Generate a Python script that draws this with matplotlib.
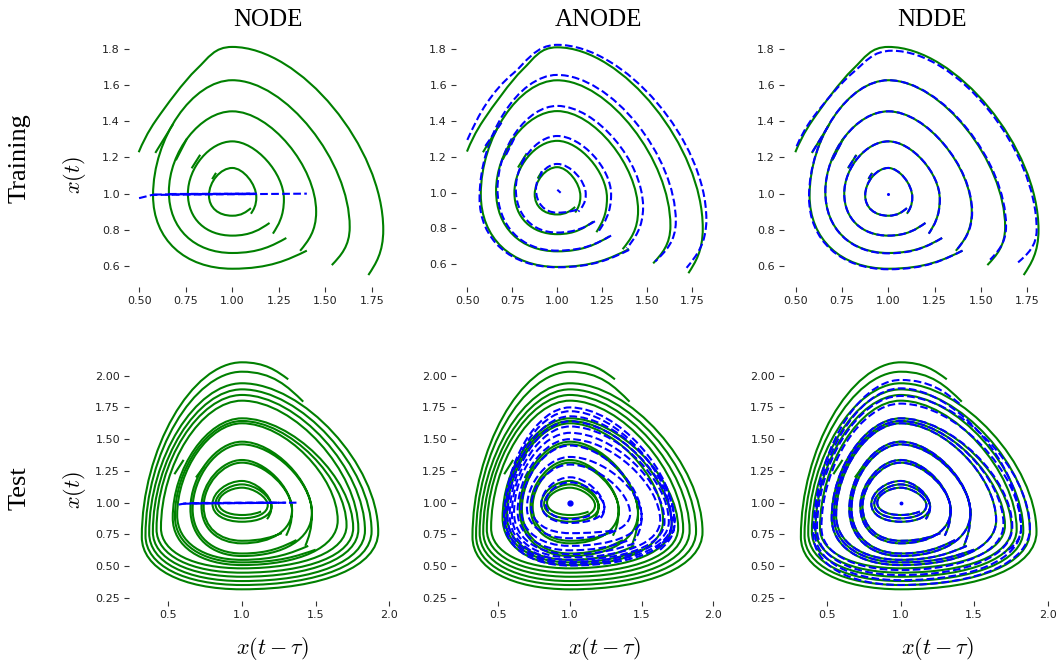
import numpy as np
import matplotlib
matplotlib.use("Agg")
import matplotlib.pyplot as plt
from matplotlib.path import Path
from matplotlib.patches import PathPatch

plt.rcParams['mathtext.fontset'] = 'cm'

TRUE_COLOR = 'green'
PRED_COLOR = 'blue'

# ---------------------------------------------------------------------------
# Training trajectories: points (x(t-tau), x(t), kind)
# kind: T/B = top/bottom turning point, L/R = left/right turning point, '.' = plain point
# ---------------------------------------------------------------------------
train_true = [
    [(0.498, 1.229, '.'), (0.593, 1.409, '.'), (0.807, 1.686, '.'), (1.00, 1.811, 'T'),
     (1.81, 0.80, 'R'), (1.73, 0.55, '.')],
    [(1.40, 0.685, '.'), (1.00, 0.585, 'B'), (0.575, 0.99, 'L'), (1.00, 1.627, 'T'), (1.63, 0.815, 'R'), (1.534, 0.605, '.')],
    [(1.29, 0.755, '.'), (1.00, 0.672, 'B'), (0.66, 1.01, 'L'), (1.00, 1.455, 'T'), (1.45, 0.90, 'R'), (1.364, 0.684, '.')],
    [(1.20, 0.838, '.'), (1.00, 0.768, 'B'), (0.762, 1.00, 'L'), (1.00, 1.289, 'T'), (1.277, 0.97, 'R'), (1.218, 0.779, '.')],
    [(1.10, 0.92, '.'), (1.00, 0.878, 'B'), (0.875, 0.99, 'L'), (1.00, 1.142, 'T'), (1.129, 0.98, 'R'), (1.10, 0.889, '.')],
]
train_true_kinks = [
    [(0.59, 1.23), (0.68, 1.38)],
    [(0.70, 1.19), (0.755, 1.30)],
    [(0.785, 1.145), (0.825, 1.21)],
    [(0.895, 1.085), (0.91, 1.11)],
]

# NODE prediction collapses onto x(t) ~ 1
train_node = [
    [(0.50, 0.975), (0.57, 0.993), (1.40, 1.00)],
    [(0.58, 0.995), (1.13, 1.00)],
    [(0.66, 0.998), (1.12, 1.00)],
    [(0.76, 1.00), (1.11, 1.00)],
    [(0.87, 1.00), (1.10, 1.00)],
]

train_anode = [
    [(0.50, 1.294, '.'), (0.608, 1.499, '.'), (0.756, 1.666, '.'), (1.00, 1.825, 'T'),
     (1.83, 0.85, 'R'), (1.72, 0.58, '.')],
    [(1.40, 0.68, '.'), (1.00, 0.583, 'B'), (0.568, 0.97, 'L'), (1.00, 1.657, 'T'), (1.66, 0.84, 'R'), (1.545, 0.615, '.')],
    [(1.30, 0.76, '.'), (1.00, 0.676, 'B'), (0.668, 1.02, 'L'), (1.00, 1.484, 'T'), (1.478, 0.92, 'R'), (1.387, 0.689, '.')],
    [(1.21, 0.84, '.'), (1.00, 0.777, 'B'), (0.77, 1.02, 'L'), (1.00, 1.316, 'T'), (1.30, 0.99, 'R'), (1.229, 0.782, '.')],
    [(1.11, 0.905, '.'), (1.00, 0.888, 'B'), (0.882, 1.02, 'L'), (1.00, 1.16, 'T'), (1.159, 0.99, 'R'), (1.118, 0.894, '.')],
]
train_anode_kinks = [
    [(0.60, 1.26), (0.69, 1.39)],
    [(0.715, 1.21), (0.765, 1.31)],
    [(0.80, 1.16), (0.83, 1.22)],
    [(0.905, 1.09), (0.915, 1.12)],
]
train_anode_rest = [(1.005, 1.012), (1.015, 1.003)]

train_ndde = [
    [(0.505, 1.262, '.'), (0.60, 1.43, '.'), (0.81, 1.67, '.'), (1.02, 1.79, 'T'),
     (1.80, 0.80, 'R'), (1.70, 0.62, '.')],
    [(1.40, 0.685, '.'), (1.00, 0.582, 'B'), (0.572, 0.98, 'L'), (1.00, 1.627, 'T'), (1.635, 0.82, 'R'), (1.549, 0.635, '.')],
    [(1.29, 0.755, '.'), (1.00, 0.670, 'B'), (0.66, 1.01, 'L'), (1.00, 1.455, 'T'), (1.452, 0.90, 'R'), (1.364, 0.684, '.')],
    [(1.20, 0.838, '.'), (1.00, 0.768, 'B'), (0.762, 1.00, 'L'), (1.00, 1.289, 'T'), (1.278, 0.97, 'R'), (1.218, 0.779, '.')],
    [(1.10, 0.92, '.'), (1.00, 0.878, 'B'), (0.875, 0.99, 'L'), (1.00, 1.142, 'T'), (1.129, 0.98, 'R'), (1.10, 0.889, '.')],
]
train_ndde_kinks = train_true_kinks
train_ndde_rest = (1.0, 1.0)

# ---------------------------------------------------------------------------
# Test trajectories: orbit turning points (bottom, left, top, right) per loop
# ---------------------------------------------------------------------------
test_true_loops = [
    ((1.00, 0.903), (0.84, 1.00), (1.00, 1.118), (1.15, 0.99)),
    ((1.00, 0.877), (0.82, 0.99), (1.00, 1.144), (1.175, 0.98)),
    ((1.00, 0.850), (0.80, 0.99), (1.00, 1.171), (1.20, 0.97)),
    ((1.00, 0.700), (0.74, 0.97), (1.00, 1.315), (1.32, 0.95)),
    ((1.00, 0.680), (0.725, 0.97), (1.00, 1.336), (1.34, 0.94)),
    ((1.00, 0.600), (0.665, 0.95), (1.00, 1.459), (1.455, 0.93)),
    ((1.00, 0.580), (0.65, 0.95), (1.00, 1.480), (1.475, 0.92)),
    ((1.00, 0.550), (0.56, 0.90), (1.00, 1.625), (1.55, 0.88)),
    ((1.00, 0.530), (0.545, 0.89), (1.00, 1.643), (1.60, 0.87)),
    ((1.00, 0.509), (0.53, 0.88), (1.00, 1.664), (1.65, 0.86)),
    ((1.00, 0.483), (0.45, 0.80), (1.00, 1.803), (1.71, 0.82)),
    ((1.00, 0.449), (0.42, 0.79), (1.00, 1.848), (1.755, 0.80)),
    ((1.00, 0.417), (0.395, 0.77), (1.00, 1.892), (1.79, 0.79)),
    ((1.00, 0.383), (0.37, 0.76), (1.00, 1.940), (1.835, 0.78)),
    ((1.00, 0.352), (0.345, 0.74), (1.00, 2.031), (1.88, 0.775)),
    ((1.00, 0.318), (0.32, 0.73), (1.00, 2.105), (1.925, 0.77)),
]
# (start, [(loop, turning points visited)], end)
test_true_runs = [
    ((1.13, 0.93), [(0, 'BLT'), (1, 'RBLT'), (2, 'RBLT'), (2, 'R')], (1.17, 0.87)),
    ((1.27, 0.76), [(3, 'BLT'), (4, 'RBLT'), (4, 'R')], (1.30, 0.74)),
    ((1.37, 0.706), [(5, 'BLT'), (6, 'RBLT'), (6, 'R')], (1.43, 0.66)),
    ((1.45, 0.66), [(7, 'BLT'), (9, 'RBLT'), (11, 'RBLT'), (13, 'RBLT'), (15, 'RBLT')], (1.314, 1.971)),
    ((1.50, 0.63), [(8, 'BLT'), (10, 'RBLT'), (12, 'RBLT'), (14, 'RBLT')], (1.416, 1.795)),
]
test_true_kinks = [
    [(0.545, 1.231), (0.60, 1.33)],
    [(0.692, 1.205), (0.74, 1.28)],
]

test_node = [
    [(0.57, 0.985), (0.62, 0.995), (1.37, 1.00)],
    [(0.60, 0.992), (1.30, 1.00)],
    [(0.66, 0.996), (1.25, 1.00)],
    [(0.72, 0.998), (1.20, 1.00)],
    [(0.80, 1.00), (1.15, 1.00)],
]

test_anode_loops = [
    ((1.00, 0.870), (0.83, 1.00), (1.00, 1.16), (1.20, 0.97)),
    ((1.00, 0.840), (0.80, 0.99), (1.00, 1.20), (1.24, 0.96)),
    ((1.00, 0.760), (0.73, 0.97), (1.00, 1.30), (1.36, 0.93)),
    ((1.00, 0.720), (0.70, 0.96), (1.00, 1.36), (1.42, 0.91)),
    ((1.00, 0.660), (0.66, 0.94), (1.00, 1.45), (1.50, 0.89)),
    ((1.00, 0.625), (0.635, 0.93), (1.00, 1.50), (1.55, 0.88)),
    ((1.00, 0.595), (0.61, 0.92), (1.00, 1.55), (1.59, 0.87)),
    ((1.00, 0.570), (0.595, 0.91), (1.00, 1.60), (1.63, 0.86)),
    ((1.00, 0.550), (0.58, 0.90), (1.00, 1.64), (1.66, 0.85)),
    ((1.00, 0.535), (0.565, 0.89), (1.00, 1.68), (1.69, 0.85)),
    ((1.00, 0.520), (0.55, 0.88), (1.00, 1.72), (1.71, 0.84)),
    ((1.00, 0.505), (0.54, 0.87), (1.00, 1.75), (1.73, 0.84)),
]
test_anode_runs = [
    ((1.14, 0.90), [(0, 'BLT'), (1, 'RBLT'), (1, 'R')], (1.20, 0.86)),
    ((1.30, 0.78), [(2, 'BLT'), (3, 'RBLT'), (4, 'RBLT'), (4, 'R')], (1.45, 0.70)),
    ((1.40, 0.70), [(5, 'BLT'), (7, 'RBLT'), (9, 'RBLT'), (11, 'RBLT'), (11, 'R')], (1.62, 0.62)),
    ((1.45, 0.68), [(6, 'BLT'), (8, 'RBLT'), (10, 'RBLT'), (10, 'R')], (1.60, 0.64)),
]
test_anode_rest = (1.0, 1.0)

test_ndde_loops = test_true_loops[:10] + [
    ((1.00, 0.470), (0.46, 0.80), (1.00, 1.78), (1.70, 0.83)),
    ((1.00, 0.430), (0.43, 0.79), (1.00, 1.84), (1.76, 0.81)),
    ((1.00, 0.390), (0.415, 0.77), (1.00, 1.90), (1.82, 0.80)),
    ((1.00, 0.352), (0.405, 0.75), (1.00, 1.966), (1.88, 0.80)),
]
test_ndde_runs = [
    ((1.13, 0.93), [(0, 'BLT'), (1, 'RBLT'), (2, 'RBLT'), (2, 'R')], (1.17, 0.87)),
    ((1.27, 0.76), [(3, 'BLT'), (4, 'RBLT'), (4, 'R')], (1.30, 0.74)),
    ((1.37, 0.706), [(5, 'BLT'), (6, 'RBLT'), (6, 'R')], (1.43, 0.66)),
    ((1.45, 0.66), [(7, 'BLT'), (9, 'RBLT'), (11, 'RBLT'), (13, 'RBLT')], (1.40, 1.78)),
    ((1.50, 0.63), [(8, 'BLT'), (10, 'RBLT'), (12, 'RBLT'), (12, 'R')], (1.70, 0.60)),
]
test_ndde_rest = (1.0, 1.0)

# tick values
train_xticks = [0.50, 0.75, 1.00, 1.25, 1.50, 1.75]
train_yticks = [0.6, 0.8, 1.0, 1.2, 1.4, 1.6, 1.8]
test_xticks = [0.5, 1.0, 1.5, 2.0]
test_yticks = [0.25, 0.50, 0.75, 1.00, 1.25, 1.50, 1.75, 2.00]

model_names = ['NODE', 'ANODE', 'NDDE']
row_names = ['Training', 'Test']

# ---------------------------------------------------------------------------
# curve construction (cubic Bezier through turning points)
# ---------------------------------------------------------------------------
HANDLE = {'TR': 0.45, 'RB': 0.6, 'BL': 0.6, 'LT': 0.5}


def axis_handle(p, q, k):
    x, y, kind = p
    if kind in 'TB':
        return np.array([x + k * (q[0] - x), y])
    if kind in 'LR':
        return np.array([x, y + k * (q[1] - y)])
    return None


def trajectory_path(pts):
    P = [np.array(p[:2], float) for p in pts]
    n = len(pts)
    verts = [P[0]]
    codes = [Path.MOVETO]
    for i in range(n - 1):
        a, b = pts[i], pts[i + 1]
        k = HANDLE.get(a[2] + b[2], 0.5)
        c1 = axis_handle(a, b, k)
        c2 = axis_handle(b, a, k)
        if c1 is None and i > 0:
            c1 = P[i] + (P[i + 1] - P[i - 1]) / 6.0
        if c2 is None and i + 2 < n:
            c2 = P[i + 1] - (P[i + 2] - P[i]) / 6.0
        if c1 is None and c2 is None:
            c1 = P[i] + (P[i + 1] - P[i]) / 3.0
            c2 = P[i] + 2 * (P[i + 1] - P[i]) / 3.0
        elif c1 is None:
            c1 = P[i] + 0.5 * (c2 - P[i])
        elif c2 is None:
            c2 = P[i + 1] + 0.5 * (c1 - P[i + 1])
        verts += [c1, c2, P[i + 1]]
        codes += [Path.CURVE4] * 3
    return Path(verts, codes)


def run_points(loops, run):
    start, visits, end = run
    pts = [(start[0], start[1], '.')]
    order = 'BLTR'
    for idx, kinds in visits:
        for kind in kinds:
            x, y = loops[idx][order.index(kind)]
            pts.append((x, y, kind))
    pts.append((end[0], end[1], '.'))
    return pts


def draw_traj(ax, pts, color, ls, lw=1.5):
    ax.add_patch(PathPatch(trajectory_path(pts), fill=False, edgecolor=color,
                           linestyle=ls, linewidth=lw, capstyle='butt'))


def draw_segments(ax, segs, color, ls, lw=1.5):
    for seg in segs:
        xs, ys = zip(*seg)
        ax.plot(xs, ys, color=color, linestyle=ls, linewidth=lw)


# ---------------------------------------------------------------------------
# figure layout
# ---------------------------------------------------------------------------
W, H = 1058, 663
fig = plt.figure(figsize=(W / 100, H / 100), dpi=100)


def px_axes(left, top, width, height):
    return fig.add_axes([left / W, 1 - (top + height) / H, width / W, height / H])


lefts = [129, 456, 784]
ax_w = 266
top_axes = [px_axes(l, 33, ax_w, 254) for l in lefts]
bot_axes = [px_axes(l, 351, ax_w, 250) for l in lefts]

top_xlims = [(0.446, 1.873), (0.437, 1.917), (0.437, 1.872)]
top_ylims = [(0.484, 1.888), (0.473, 1.891), (0.484, 1.888)]
bot_xlims = [(0.233, 2.039), (0.205, 2.061), (0.205, 2.017)]
bot_ylims = [(0.226, 2.194), (0.226, 2.194), (0.226, 2.194)]

# training row -------------------------------------------------------------
for ax in top_axes:
    for tr in train_true:
        draw_traj(ax, tr, TRUE_COLOR, '-')
    draw_segments(ax, train_true_kinks, TRUE_COLOR, '-')

draw_segments(top_axes[0], train_node, PRED_COLOR, '--')

for tr in train_anode:
    draw_traj(top_axes[1], tr, PRED_COLOR, '--')
draw_segments(top_axes[1], train_anode_kinks, PRED_COLOR, '--')
top_axes[1].plot(*zip(*train_anode_rest), color=PRED_COLOR, lw=1.5)

for tr in train_ndde:
    draw_traj(top_axes[2], tr, PRED_COLOR, '--')
draw_segments(top_axes[2], train_ndde_kinks, PRED_COLOR, '--')
top_axes[2].plot([train_ndde_rest[0]], [train_ndde_rest[1]], 'o', color=PRED_COLOR, ms=1.2)

# test row -----------------------------------------------------------------
for ax in bot_axes:
    for run in test_true_runs:
        draw_traj(ax, run_points(test_true_loops, run), TRUE_COLOR, '-')
    draw_segments(ax, test_true_kinks, TRUE_COLOR, '-')

draw_segments(bot_axes[0], test_node, PRED_COLOR, '--')

for run in test_anode_runs:
    draw_traj(bot_axes[1], run_points(test_anode_loops, run), PRED_COLOR, '--')
bot_axes[1].plot([test_anode_rest[0]], [test_anode_rest[1]], 'o', color=PRED_COLOR, ms=3.5)

for run in test_ndde_runs:
    draw_traj(bot_axes[2], run_points(test_ndde_loops, run), PRED_COLOR, '--')
bot_axes[2].plot([test_ndde_rest[0]], [test_ndde_rest[1]], 'o', color=PRED_COLOR, ms=1.8)

# axes styling ---------------------------------------------------------------
for i, ax in enumerate(top_axes):
    ax.set_xlim(*top_xlims[i]); ax.set_ylim(*top_ylims[i])
    ax.set_xticks(train_xticks); ax.set_xticklabels([f'{v:.2f}' for v in train_xticks])
    ax.set_yticks(train_yticks); ax.set_yticklabels([f'{v:.1f}' for v in train_yticks])
for i, ax in enumerate(bot_axes):
    ax.set_xlim(*bot_xlims[i]); ax.set_ylim(*bot_ylims[i])
    ax.set_xticks(test_xticks); ax.set_xticklabels([f'{v:.1f}' for v in test_xticks])
    ax.set_yticks(test_yticks); ax.set_yticklabels([f'{v:.2f}' for v in test_yticks])

for ax in top_axes + bot_axes:
    for s in ax.spines.values():
        s.set_visible(False)
    ax.tick_params(labelsize=8, length=3.5, width=0.8, color='#333333',
                   labelcolor='#222222', pad=3)
    ax.set_facecolor('none')

serif = ['Liberation Serif', 'DejaVu Serif']
for name, xc in zip(model_names, [268, 598, 932]):
    fig.text(xc / W, 1 - 20 / H, name, family=serif, fontsize=18, ha='center', va='center')
for name, yc in zip(row_names, [158, 488]):
    fig.text(20 / W, 1 - yc / H, name, family=serif, fontsize=19, rotation=90,
             ha='center', va='center')
for yc in [175, 490]:
    fig.text(75 / W, 1 - yc / H, r'$x(t)$', fontsize=16, rotation=90, ha='center', va='center')
for xc in [272, 604, 937]:
    fig.text(xc / W, 1 - 648 / H, r'$x(t-\tau)$', fontsize=16, ha='center', va='center')

fig.savefig('out.png', dpi=100)
